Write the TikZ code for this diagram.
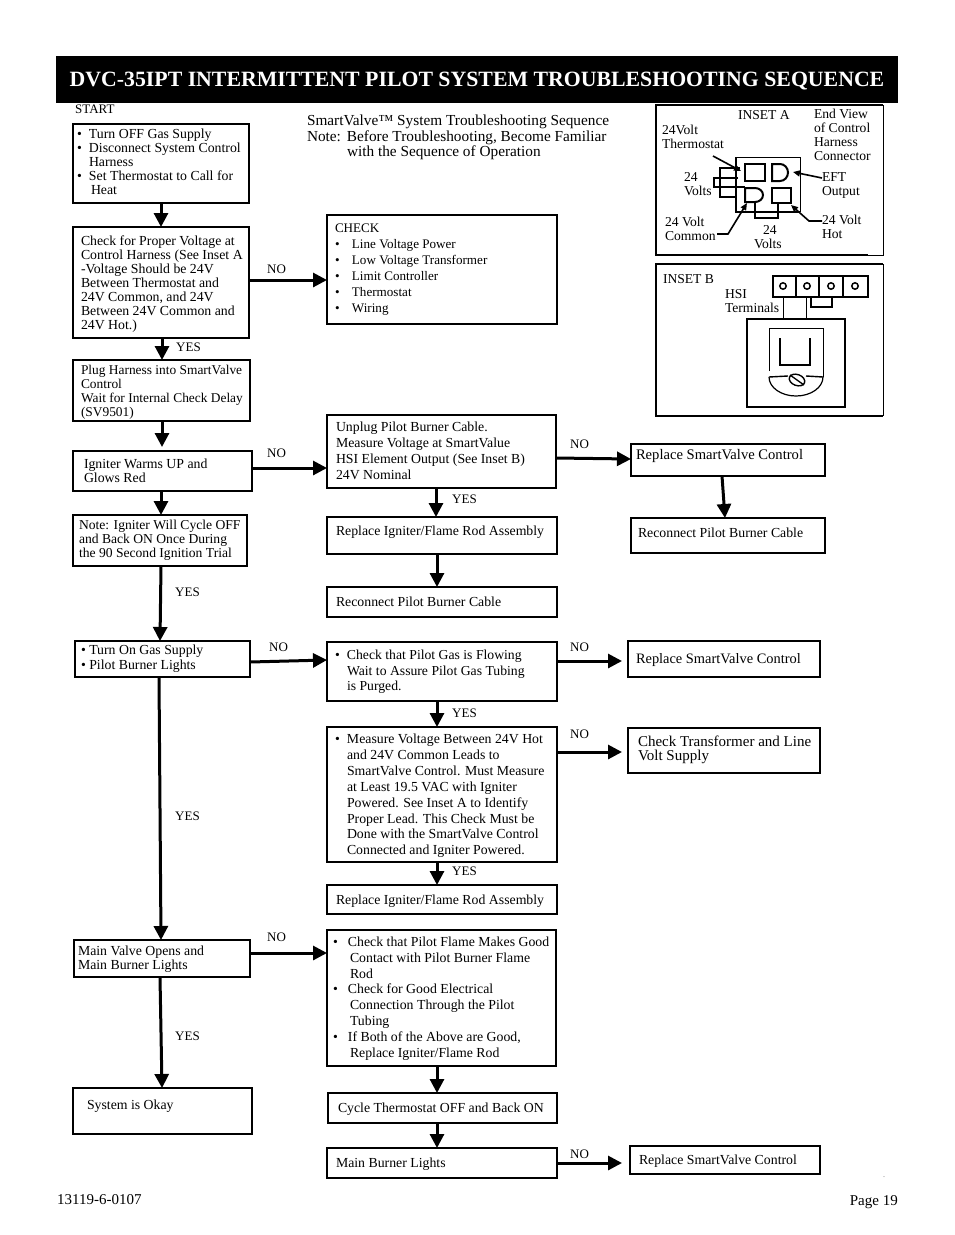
\documentclass[tikz,border=0pt]{standalone}
\usepackage{fontspec}
\setmainfont{Liberation Serif}
\usetikzlibrary{arrows.meta,fit}
\tikzset{
 heavy/.style={draw=black,line width=2.4pt,inner sep=0pt,outer sep=0pt,fit={#1}},
 light/.style={draw=black,line width=1.3pt,inner sep=0pt,outer sep=0pt,fit={#1}},
 txt/.style={inner sep=0pt,outer sep=0pt,anchor=north west,align=left,yshift=-1pt,font=\fontsize{13.8}{14}\selectfont},
 txtl/.style={txt,font=\fontsize{13.8}{15.9}\selectfont},
 lab/.style={inner sep=0pt,anchor=west,font=\fontsize{13}{14}\selectfont},
 small/.style={txt,font=\fontsize{13.6}{14}\selectfont},
 arr/.style={line width=3pt,-{Triangle[length=14pt,width=14pt]}},
 wire/.style={line width=1.2pt},
 wirebold/.style={line width=2pt},
 thinarr/.style={line width=1.6pt,-{Triangle[length=7pt,width=6pt]}}
}
\newcommand{\bu}{\makebox[12pt][l]{•}}
\begin{document}
\begin{tikzpicture}[x=1pt,y=-1pt]
\useasboundingbox (0,0) rectangle (954,1235);
\fill[white] (0,0) rectangle (954,1235);
% header
\node[fill=black,text=white,inner sep=0pt,outer sep=0pt,fit={(56,56)(898,103)}] (hdr) {};
\node[text=white,inner sep=0pt,font=\fontsize{21.8}{24}\selectfont\bfseries] (title) at (477,81) {DVC-35IPT INTERMITTENT PILOT SYSTEM TROUBLESHOOTING SEQUENCE};
% left column boxes
\node[heavy={(73,124)(249,203)}] (b1) {};
\node[heavy={(73,227)(249,338)}] (b2) {};
\node[light={(73,360)(250,421)}] (b3) {};
\node[light={(73,451)(252,491)}] (b4) {};
\node[light={(73,515)(247,566)}] (b5) {};
\node[light={(75,641)(250,677)}] (b6) {};
\node[light={(74,940)(250,977)}] (b7) {};
\node[light={(73,1088)(252,1134)}] (b8) {};
% centre column
\node[heavy={(327,215)(557,324)}] (c1) {};
\node[light={(327,415)(556,488)}] (c2) {};
\node[light={(327,517)(557,554)}] (c3) {};
\node[light={(327,587)(557,617)}] (c4) {};
\node[light={(327,642)(557,701)}] (c5) {};
\node[light={(327,727)(557,862)}] (c6) {};
\node[light={(327,885)(557,914)}] (c7) {};
\node[light={(327,930)(556,1066)}] (c8) {};
\node[light={(328,1093)(557,1123)}] (c9) {};
\node[light={(327,1148)(557,1178)}] (c10) {};
% right column
\node[light={(631,444)(825,476)}] (r1) {};
\node[light={(631,518)(825,553)}] (r2) {};
\node[light={(628,641)(820,677)}] (r3) {};
\node[light={(628,728)(820,773)}] (r4) {};
\node[light={(630,1146)(820,1174)}] (r5) {};
% texts
\node[lab] (start) at (75,109) {START};
\node[txt] (t1) at (77,128) {\bu Turn OFF Gas Supply\\\bu Disconnect System Control\\\hspace*{12pt}Harness\\\bu Set Thermostat to Call for\\\hspace*{14pt}Heat};
\node[txt] (t2) at (81,235) {Check for Proper Voltage at\\Control Harness (See Inset A\\-Voltage Should be 24V\\Between Thermostat and\\24V Common, and 24V\\Between 24V Common and\\24V Hot.)};
\node[txt,font=\fontsize{13.4}{14}\selectfont] (t3) at (81,364) {Plug Harness into SmartValve\\Control\\Wait for Internal Check Delay\\(SV9501)};
\node[txt] (t4) at (84,458) {Igniter Warms UP and\\Glows Red};
\node[txt,font=\fontsize{13.6}{14}\selectfont] (t5) at (79,519) {Note: Igniter Will Cycle OFF\\and Back ON Once During\\the 90 Second Ignition Trial};
\node[txt,font=\fontsize{13.8}{15}\selectfont] (t6) at (81,644) {• Turn On Gas Supply\\• Pilot Burner Lights};
\node[txt] (t7) at (78,945) {Main Valve Opens and\\Main Burner Lights};
\node[txt] (t8) at (87,1099) {System is Okay};
\node[txt,font=\fontsize{13.1}{16}\selectfont] (tc1) at (335,223) {CHECK\\\makebox[17pt][l]{•}Line Voltage Power\\\makebox[17pt][l]{•}Low Voltage Transformer\\\makebox[17pt][l]{•}Limit Controller\\\makebox[17pt][l]{•}Thermostat\\\makebox[17pt][l]{•}Wiring};
\node[txtl] (tc2) at (336,421) {Unplug Pilot Burner Cable.\\Measure Voltage at SmartValue\\HSI Element Output (See Inset B)\\24V Nominal};
\node[txt] (tc3) at (336,525) {Replace Igniter/Flame Rod Assembly};
\node[txt] (tc4) at (336,596) {Reconnect Pilot Burner Cable};
\node[txt,font=\fontsize{13.7}{15.5}\selectfont] (tc5) at (335,649) {\makebox[12pt][l]{•}Check that Pilot Gas is Flowing\\\hspace*{12pt}Wait to Assure Pilot Gas Tubing\\\hspace*{12pt}is Purged.};
\node[txtl] (tc6) at (335,733) {\makebox[12pt][l]{•}Measure Voltage Between 24V Hot\\\hspace*{12pt}and 24V Common Leads to\\\hspace*{12pt}SmartValve Control. Must Measure\\\hspace*{12pt}at Least 19.5 VAC with Igniter\\\hspace*{12pt}Powered. See Inset A to Identify\\\hspace*{12pt}Proper Lead. This Check Must be\\\hspace*{12pt}Done with the SmartValve Control\\\hspace*{12pt}Connected and Igniter Powered.};
\node[txt] (tc7) at (336,894) {Replace Igniter/Flame Rod Assembly};
\node[txt,font=\fontsize{13.8}{15.8}\selectfont] (tc8) at (333,936) {\makebox[15pt][l]{•}Check that Pilot Flame Makes Good\\\hspace*{17pt}Contact with Pilot Burner Flame\\\hspace*{17pt}Rod\\\makebox[15pt][l]{•}Check for Good Electrical\\\hspace*{17pt}Connection Through the Pilot\\\hspace*{17pt}Tubing\\\makebox[15pt][l]{•}If Both of the Above are Good,\\\hspace*{17pt}Replace Igniter/Flame Rod};
\node[txt] (tc9) at (338,1102) {Cycle Thermostat OFF and Back ON};
\node[txt] (tc10) at (336,1157) {Main Burner Lights};
\node[txt,font=\fontsize{14.6}{15}\selectfont] (tr1) at (636,448) {Replace SmartValve Control};
\node[txt] (tr2) at (638,527) {Reconnect Pilot Burner Cable};
\node[txt,font=\fontsize{14.4}{15}\selectfont] (tr3) at (636,652) {Replace SmartValve Control};
\node[txt,font=\fontsize{15}{14}\selectfont] (tr4) at (638,735) {Check Transformer and Line\\Volt Supply};
\node[txt] (tr5) at (639,1154) {Replace SmartValve Control};
\node[txt,font=\fontsize{15.3}{15.5}\selectfont] (note) at (307,114) {\hspace*{0pt}SmartValve™ System Troubleshooting Sequence\\Note:\hspace{6pt}Before Troubleshooting, Become Familiar\\\hspace*{40pt}with the Sequence of Operation};
% arrows
\draw[arr] (b1.south -| 161,0) -- (b2.north -| 161,0);
\draw[arr] (b2.south -| 162,0) -- (b3.north -| 162,0);
\draw[arr,shorten >=4pt] (b3.south -| 162,0) -- (b4.north -| 162,0);
\draw[arr] (b4.south -| 161,0) -- (b5.north -| 161,0);
\draw[arr] (b5.south -| 161,0) -- (b6.north -| 160,0);
\draw[arr] (b6.south -| 159,0) -- (b7.north -| 161,0);
\draw[arr] (b7.south -| 160,0) -- (b8.north -| 162,0);
\draw[arr] (b2.east |- 0,280) -- (c1.west |- 0,280);
\draw[arr] (b4.east |- 0,468) -- (c2.west |- 0,468);
\draw[arr] (b6.east |- 0,662) -- (c5.west |- 0,660);
\draw[arr] (b7.east |- 0,953) -- (c8.west |- 0,953);
\draw[arr] (c2.south -| 436,0) -- (c3.north -| 436,0);
\draw[arr] (c3.south -| 437,0) -- (c4.north -| 437,0);
\draw[arr] (c5.south -| 437,0) -- (c6.north -| 437,0);
\draw[arr] (c6.south -| 437,0) -- (c7.north -| 437,0);
\draw[arr] (c8.south -| 437,0) -- (c9.north -| 437,0);
\draw[arr] (c9.south -| 437,0) -- (c10.north -| 437,0);
\draw[arr] (c2.east |- 0,458) -- (r1.west |- 0,459);
\draw[arr] (r1.south -| 722,0) -- (r2.north -| 725,0);
\draw[arr,shorten >=6pt] (c5.east |- 0,661) -- (r3.west |- 0,661);
\draw[arr,shorten >=6pt] (c6.east |- 0,752) -- (r4.west |- 0,752);
\draw[arr,shorten >=8pt] (c10.east |- 0,1163) -- (r5.west |- 0,1163);
% connector labels
\node[lab] (l1) at (267,269) {NO};
\node[lab] (l2) at (176,347) {YES};
\node[lab] (l3) at (267,453) {NO};
\node[lab] (l4) at (175,592) {YES};
\node[lab] (l5) at (269,647) {NO};
\node[lab] (l6) at (175,816) {YES};
\node[lab] (l7) at (267,937) {NO};
\node[lab] (l8) at (175,1036) {YES};
\node[lab] (l9) at (570,444) {NO};
\node[lab] (l10) at (452,499) {YES};
\node[lab] (l11) at (570,647) {NO};
\node[lab] (l12) at (452,713) {YES};
\node[lab] (l13) at (570,734) {NO};
\node[lab] (l14) at (452,871) {YES};
\node[lab] (l15) at (570,1154) {NO};
% inset A
\draw[line width=2pt] (883,105) -- (656,105) -- (656,255) -- (868,255);
\draw[line width=0.9pt] (868,255) -- (883,255) -- (883,105);
\draw[line width=0.9pt] (736,157) -| (800,212);
\draw[line width=2pt] (736,157) |- (800,212);
\draw[wirebold] (745,164) rectangle (765,181);
\draw[wirebold] (772,164) -- (780,164) arc (-90:90:8 and 8.5) -- (772,181) -- cycle;
\draw[wirebold] (745,188) -- (755,188) arc (-90:90:8 and 7) -- (745,202) -- cycle;
\draw[wirebold] (772,188) rectangle (791,203);
\draw[wire] (740,168) -- (720,168) -- (720,197) -- (737,197);
\draw[wire] (738,178) -- (714,178) -- (714,187) -- (745,187);
\draw[wire] (755,202) -- (755,218) -- (778,218) -- (778,203);
\coordinate (aT) at (713,156);
\coordinate (aE) at (822,178);
\coordinate (aC) at (717,234);
\coordinate (aH) at (822,221);
\draw[thinarr] (aT) -- (741,171);
\draw[thinarr] (aE) -- (793,172);
\draw[thinarr] (aC) -- (728,234) -- (747,203);
\draw[thinarr] (aH) -- (809,221) -- (791,205);
\node[small] (ia1) at (738,109) {INSET A};
\node[small] (ia2) at (814,108) {End View\\of Control\\Harness\\Connector};
\node[small] (ia3) at (662,124) {24Volt\\Thermostat};
\node[small] (ia4) at (684,171) {24\\Volts};
\node[small] (ia5) at (822,172) {EFT\\Output};
\node[small] (ia6) at (665,216) {24 Volt\\Common};
\node[small,align=center] (ia7) at (754,224) {\hspace*{4pt}24\\Volts};
\node[small] (ia8) at (822,214) {24 Volt\\Hot};
% inset B
\draw[line width=2pt] (883,264) -- (656,264) -- (656,416) -- (883,416);
\draw[line width=0.9pt] (883,264) -- (883,416);
\draw[wirebold] (773,276) rectangle (868,297);
\draw[wire] (796,276) -- (796,297) (819,276) -- (819,297) (843,276) -- (843,297);
\draw[line width=1.5pt] (783,286) circle (3.2) (807,286) circle (3.2) (831,286) circle (3.2) (855,286) circle (3.2);
\draw[wirebold] (811,297) -- (811,307) -- (832,307) -- (832,297);
\draw[line width=0.9pt] (783,297) -- (783,319) (806,297) -- (806,319);
\draw[line width=1.4pt] (747,319) rectangle (845,407);
\draw[line width=1pt] (769,371) -- (769,328) -- (823,328) -- (823,377);
\draw[line width=2.2pt] (780,338) -- (780,365) -- (810,365) -- (810,338);
\draw[line width=1.4pt] (769,377) -- (788,376);
\draw[line width=1.4pt] (806,376) -- (823,377);
\draw[line width=1.2pt] (769,377) arc (180:0:27 and 19);
\draw[line width=1.4pt,fill=white,rotate around={-20:(797,380)}] (797,380) ellipse (8 and 5.5);
\draw[line width=1.3pt] (790,375) -- (804,385);
\node[small] (ib1) at (663,273) {INSET B};
\node[small] (ib2) at (725,288) {HSI\\Terminals};
% footer
\node[lab,font=\fontsize{15}{15}\selectfont] (f1) at (57,1200) {13119-6-0107};
\node[inner sep=0pt,anchor=base east,font=\fontsize{15}{15}\selectfont] (f2) at (898,1205) {Page 19};
\node[inner sep=0pt,font=\fontsize{6}{6}\selectfont] (dot) at (884,1177) {.};
\end{tikzpicture}
\end{document}
